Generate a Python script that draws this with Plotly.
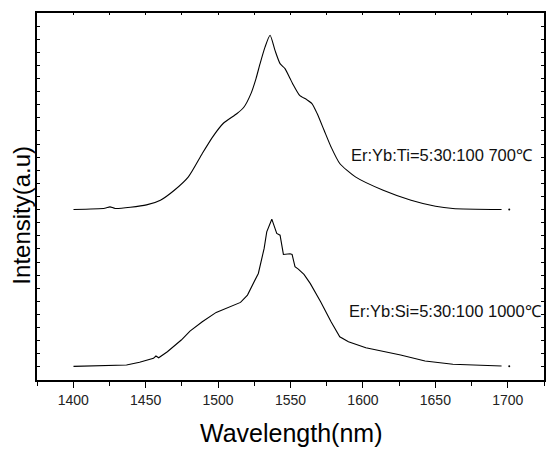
import plotly.graph_objects as go

# Er:Yb:Ti = 5:30:100, 700 C (upper curve)
wl_ti = [1400.2, 1421.8, 1425.4, 1429.0, 1450.6, 1460.2, 1469.8, 1479.5, 1489.1, 1496.3,
         1503.5, 1513.1, 1517.9, 1522.7, 1526.2, 1529.0, 1532.4, 1535.9, 1539.3, 1542.8,
         1546.2, 1549.7, 1551.5, 1556.3, 1561.2, 1564.8, 1568.4, 1573.2, 1578.0, 1584.0,
         1594.8, 1614.0, 1633.2, 1650.1, 1662.1, 1695.7]
int_ti = [13.01, 13.11, 13.21, 13.09, 13.36, 13.72, 14.48, 15.50, 17.28, 18.55,
          19.57, 20.33, 20.83, 21.85, 23.00, 24.14, 25.40, 26.30, 25.15, 24.14,
          23.76, 23.00, 22.61, 21.72, 21.39, 21.09, 20.33, 19.05, 17.78, 16.52,
          15.50, 14.48, 13.72, 13.26, 13.09, 13.01]

# Er:Yb:Si = 5:30:100, 1000 C (lower curve)
wl_si = [1400.2, 1427.2, 1436.8, 1445.8, 1455.4, 1457.1, 1459.0, 1465.0, 1474.6, 1480.6,
         1489.1, 1498.7, 1505.9, 1515.5, 1520.3, 1527.8, 1531.8, 1533.6, 1537.1, 1540.5,
         1542.8, 1545.1, 1549.7, 1551.1, 1553.1, 1555.4, 1559.3, 1563.6, 1570.8, 1578.0,
         1584.0, 1590.0, 1602.0, 1626.0, 1642.9, 1662.1, 1695.7]
int_si = [1.04, 1.14, 1.14, 1.35, 1.65, 1.83, 1.70, 2.16, 3.05, 3.73,
          4.44, 5.16, 5.51, 5.92, 6.48, 8.13, 10.04, 11.30, 12.27, 11.18,
          11.05, 9.58, 9.63, 9.58, 8.64, 8.46, 8.06, 7.37, 5.97, 4.44,
          3.30, 2.92, 2.46, 1.91, 1.45, 1.20, 1.07]

# isolated end points
end_wl = [1701, 1701]
end_int = [13.01, 1.04]

label_ti = "Er:Yb:Ti=5:30:100 700℃"
label_si = "Er:Yb:Si=5:30:100 1000℃"
x_title = "Wavelength(nm)"
y_title = "Intensity(a.u)"

FONT = "Liberation Sans, Arial, sans-serif"
XR = [1375, 1725]
YR = [0, 28]

fig = go.Figure()
fig.add_trace(go.Scatter(x=wl_ti, y=int_ti, mode="lines",
                         line=dict(color="black", width=1.1, shape="spline", smoothing=0.6),
                         showlegend=False, hoverinfo="skip"))
fig.add_trace(go.Scatter(x=wl_si, y=int_si, mode="lines",
                         line=dict(color="black", width=1.1),
                         showlegend=False, hoverinfo="skip"))
fig.add_trace(go.Scatter(x=end_wl, y=end_int, mode="markers",
                         marker=dict(color="black", size=2),
                         showlegend=False, hoverinfo="skip"))
# helper trace for the mirrored top/right axes
fig.add_trace(go.Scatter(x=[None], y=[None], xaxis="x2", yaxis="y2",
                         showlegend=False, hoverinfo="skip"))

fig.update_layout(
    width=546, height=450,
    margin=dict(l=37, r=2, t=13, b=70),
    paper_bgcolor="white", plot_bgcolor="white",
    font=dict(family=FONT, color="black"),
    xaxis=dict(range=XR, showgrid=False, zeroline=False,
               showline=True, linecolor="black", linewidth=1.5,
               ticks="outside", ticklen=6, tickwidth=1.2, tickcolor="black",
               tick0=1400, dtick=50,
               minor=dict(ticks="outside", ticklen=4, tickwidth=1.2,
                          tickcolor="black", dtick=25, tick0=1400),
               tickfont=dict(size=14, family=FONT, color="#222")),
    xaxis2=dict(range=XR, overlaying="x", side="top", showgrid=False,
                zeroline=False, showline=True, linecolor="black", linewidth=1.5,
                ticks="inside", ticklen=2, tickcolor="black",
                tick0=1400, dtick=25, showticklabels=False),
    yaxis=dict(range=YR, showgrid=False, zeroline=False,
               showline=True, linecolor="black", linewidth=1.5,
               ticks="inside", ticklen=3, tickcolor="black",
               tick0=0, dtick=1, showticklabels=False),
    yaxis2=dict(range=YR, overlaying="y", side="right", showgrid=False,
                zeroline=False, showline=True, linecolor="black", linewidth=1.5,
                ticks="inside", ticklen=3, tickcolor="black",
                tick0=0, dtick=1, showticklabels=False),
    annotations=[
        dict(text=label_ti, x=1719, y=17.15, xref="x", yref="y",
             xanchor="right", yanchor="middle", showarrow=False,
             font=dict(size=16.5, family=FONT, color="#111")),
        dict(text=label_si, x=1725, y=5.26, xref="x", yref="y",
             xanchor="right", yanchor="middle", showarrow=False,
             font=dict(size=16.5, family=FONT, color="#111")),
        dict(text=x_title, x=0.5, y=-0.145, xref="paper", yref="paper",
             xanchor="center", yanchor="middle", showarrow=False,
             font=dict(size=25, family=FONT, color="black")),
        dict(text=y_title, x=-0.03, y=0.45, xref="paper", yref="paper",
             xanchor="center", yanchor="middle", showarrow=False, textangle=-90,
             font=dict(size=24, family=FONT, color="black")),
    ],
)

fig.write_html("out.html")
